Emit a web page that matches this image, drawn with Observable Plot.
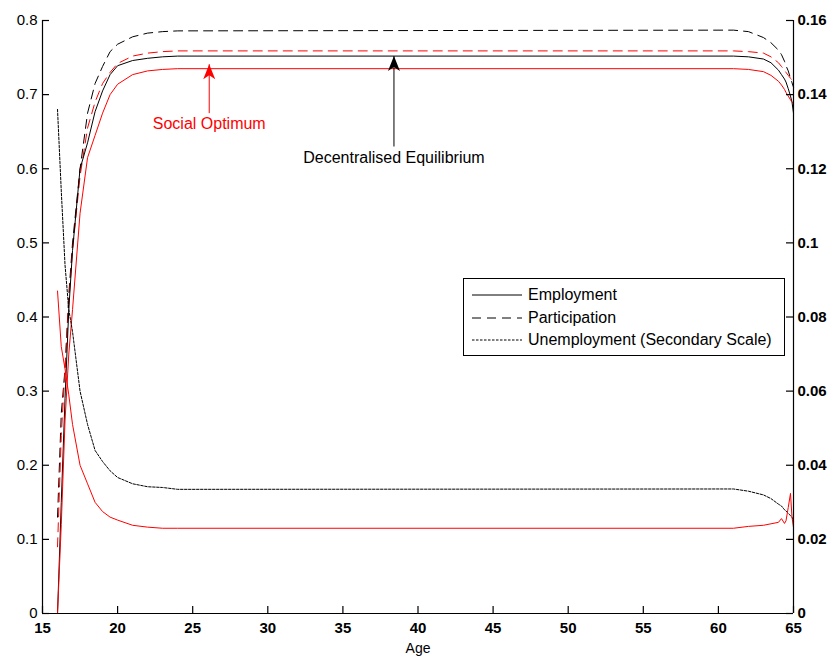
<!DOCTYPE html>
<html><head><meta charset="utf-8">
<script src="https://cdn.jsdelivr.net/npm/d3@7"></script>
<script src="https://cdn.jsdelivr.net/npm/@observablehq/plot@0.6"></script>
<style>
html,body{margin:0;padding:0;background:#fff;}
#chart{position:relative;width:835px;height:661px;font-family:"Liberation Sans",Arial,sans-serif;}
#legend{position:absolute;left:463px;top:278px;width:320px;height:76px;border:1.5px solid #000;background:#fff;font-size:16px;color:#000;}
.row{position:absolute;left:8px;height:20px;display:flex;align-items:center;white-space:nowrap;}
.row svg{margin-right:6px;}
</style></head><body><div id="chart"></div>
<script>
// ---- data ----
const ages = [16, 16.25, 16.5, 16.75, 17, 17.5, 18, 18.5, 19, 19.5, 20, 21, 22, 23, 24, 61, 62, 63, 63.5, 64, 64.2, 64.4, 64.5, 64.65, 64.8, 64.9, 65];
// Decentralised equilibrium (black)
const deEmployment    = [0, 0.15, 0.29, 0.41, 0.49, 0.60, 0.635, 0.677, 0.705, 0.727, 0.739, 0.746, 0.749, 0.751, 0.752, 0.752, 0.751, 0.748, 0.743, 0.733, 0.727, 0.721, 0.717, 0.708, 0.698, 0.69, 0.675];
const deParticipation = [0.13, 0.27, 0.33, 0.43, 0.50, 0.60, 0.675, 0.715, 0.738, 0.758, 0.768, 0.778, 0.783, 0.785, 0.786, 0.787, 0.785, 0.777, 0.770, 0.760, 0.754, 0.745, 0.739, 0.732, 0.722, 0.716, 0.71];
const deUnemployment  = [0.136, 0.114, 0.094, 0.082, 0.076, 0.060, 0.051, 0.044, 0.041, 0.0385, 0.0367, 0.035, 0.0342, 0.034, 0.0335, 0.0336, 0.033, 0.032, 0.031, 0.0295, 0.029, 0.028, 0.0277, 0.027, 0.0264, 0.026, 0.025];
// Social optimum (red)
const soEmployment    = [0, 0.12, 0.26, 0.35, 0.41, 0.54, 0.615, 0.645, 0.675, 0.70, 0.714, 0.727, 0.732, 0.734, 0.735, 0.735, 0.734, 0.731, 0.726, 0.718, 0.713, 0.707, 0.703, 0.698, 0.693, 0.69, 0.688];
const soParticipation = [0.09, 0.24, 0.33, 0.42, 0.49, 0.59, 0.655, 0.69, 0.715, 0.73, 0.742, 0.752, 0.756, 0.758, 0.759, 0.759, 0.758, 0.756, 0.751, 0.743, 0.738, 0.733, 0.73, 0.726, 0.722, 0.72, 0.718];
const soUnemployment  = [0.087, 0.072, 0.066, 0.059, 0.051, 0.040, 0.035, 0.030, 0.0275, 0.026, 0.0252, 0.0238, 0.0233, 0.023, 0.023, 0.023, 0.0235, 0.0238, 0.0242, 0.0246, 0.0256, 0.0243, 0.025, 0.0286, 0.0324, 0.026, 0.0232];

const xTicks = [15, 20, 25, 30, 35, 40, 45, 50, 55, 60, 65];
const leftTicks = [0, 0.1, 0.2, 0.3, 0.4, 0.5, 0.6, 0.7, 0.8];
const leftTickLabels = ["0", "0.1", "0.2", "0.3", "0.4", "0.5", "0.6", "0.7", "0.8"];
const rightTickLabels = ["0", "0.02", "0.04", "0.06", "0.08", "0.1", "0.12", "0.14", "0.16"];
const secondaryMax = 0.16, primaryMax = 0.8;

const annLabels = ["Social Optimum", "Decentralised Equilibrium"];
const annAge = [26.1, 38.4];
const annTip = [0.741, 0.752];
const annTail = [0.675, 0.630];
const annText = [0.660, 0.615];
const annColor = ["#ff0000", "#000000"];

const legendLabels = ["Employment", "Participation", "Unemployment (Secondary Scale)"];

// ---- layout ----
const W = 835, H = 661, mL = 42, mR = 42, mT = 20, mB = 48, tickLen = 7;
const xMin = xTicks[0], xMax = xTicks[xTicks.length - 1];
const xUnitsPerPx = (xMax - xMin) / (W - mL - mR);
const yUnitsPerPx = primaryMax / (H - mT - mB);

// ---- build ----
const k = primaryMax / secondaryMax;
const toRows = (vals, scale = 1) => ages.map((a, i) => ({age: a, v: vals[i] * scale}));
const series = [
  {rows: toRows(deParticipation), stroke: "#000", dash: "9,6"},
  {rows: toRows(soParticipation), stroke: "#ff0000", dash: "9,6"},
  {rows: toRows(deEmployment), stroke: "#000", dash: null},
  {rows: toRows(soEmployment), stroke: "#ff0000", dash: null},
  {rows: toRows(deUnemployment, k), stroke: "#000", dash: "2.5,1.5"},
  {rows: toRows(soUnemployment, k), stroke: "#ff0000", dash: null}
];
const anns = annLabels.map((l, i) => ({label: l, x: annAge[i], tip: annTip[i], tail: annTail[i], ty: annText[i], color: annColor[i]}));
const headSymbol = {draw(ctx) { ctx.moveTo(0, 0); ctx.lineTo(-6, 15); ctx.lineTo(0, 11); ctx.lineTo(6, 15); ctx.closePath(); }};

const marks = [];
for (const s of series) {
  marks.push(Plot.line(s.rows, {x: "age", y: "v", stroke: s.stroke, strokeWidth: 1, strokeDasharray: s.dash}));
}
for (const a of anns) {
  marks.push(Plot.link([a], {x1: "x", x2: "x", y1: "tail", y2: "tip", stroke: a.color, strokeWidth: 1}));
  marks.push(Plot.dot([a], {x: "x", y: "tip", symbol: headSymbol, r: 5, fill: a.color, stroke: "none"}));
  marks.push(Plot.text([a], {x: "x", y: "ty", text: "label", fill: a.color, fontSize: 16}));
}
marks.push(
  Plot.ruleX([xMin, xMax], {y1: 0, y2: primaryMax, stroke: "#000", strokeWidth: 1.2}),
  Plot.ruleY([0], {stroke: "#000", strokeWidth: 1.2}),
  // inward tick marks
  Plot.ruleX(xTicks, {x: d => d, y1: 0, y2: tickLen * yUnitsPerPx, stroke: "#000", strokeWidth: 1.2}),
  Plot.ruleY(leftTicks, {y: d => d, x1: xMin, x2: xMin + tickLen * xUnitsPerPx, stroke: "#000", strokeWidth: 1.2}),
  Plot.ruleY(leftTicks, {y: d => d, x1: xMax - tickLen * xUnitsPerPx, x2: xMax, stroke: "#000", strokeWidth: 1.2}),
  // tick labels
  Plot.axisX({ticks: xTicks, tickSize: 0, tickPadding: 9, fontSize: 15, fontWeight: "bold", label: null, tickFormat: d => String(d)}),
  Plot.axisY({anchor: "left", ticks: leftTicks, tickSize: 0, tickPadding: 5, fontSize: 15, label: null,
    tickFormat: d => leftTickLabels[Math.round(d * 10)]}),
  Plot.axisY({anchor: "right", ticks: leftTicks, tickSize: 0, tickPadding: 4, fontSize: 15, fontWeight: "bold", label: null,
    tickFormat: d => rightTickLabels[Math.round(d * 10)]}),
  Plot.text(["Age"], {frameAnchor: "bottom", dy: 39, fontSize: 14})
);

const chart = Plot.plot({
  width: W, height: H,
  marginLeft: mL, marginRight: mR, marginTop: mT, marginBottom: mB,
  x: {domain: [xMin, xMax]},
  y: {domain: [0, primaryMax]},
  style: {fontFamily: '"Liberation Sans", Arial, sans-serif', background: "#fff", color: "#000", overflow: "visible"},
  marks
});
const root = document.getElementById("chart");
root.appendChild(chart);

// legend
const leg = document.createElement("div");
leg.id = "legend";
const styles = [{dash: null}, {dash: "9,6"}, {dash: "2.5,1.5"}];
legendLabels.forEach((lab, i) => {
  const row = document.createElement("div");
  row.className = "row";
  row.style.top = (6 + i * 22.5) + "px";
  row.innerHTML = `<svg width="50" height="4"><line x1="0" x2="50" y1="2" y2="2" stroke="#000" stroke-width="1" ${styles[i].dash ? `stroke-dasharray="${styles[i].dash}"` : ""}/></svg><span>${lab}</span>`;
  leg.appendChild(row);
});
root.appendChild(leg);
</script>
</body></html>
